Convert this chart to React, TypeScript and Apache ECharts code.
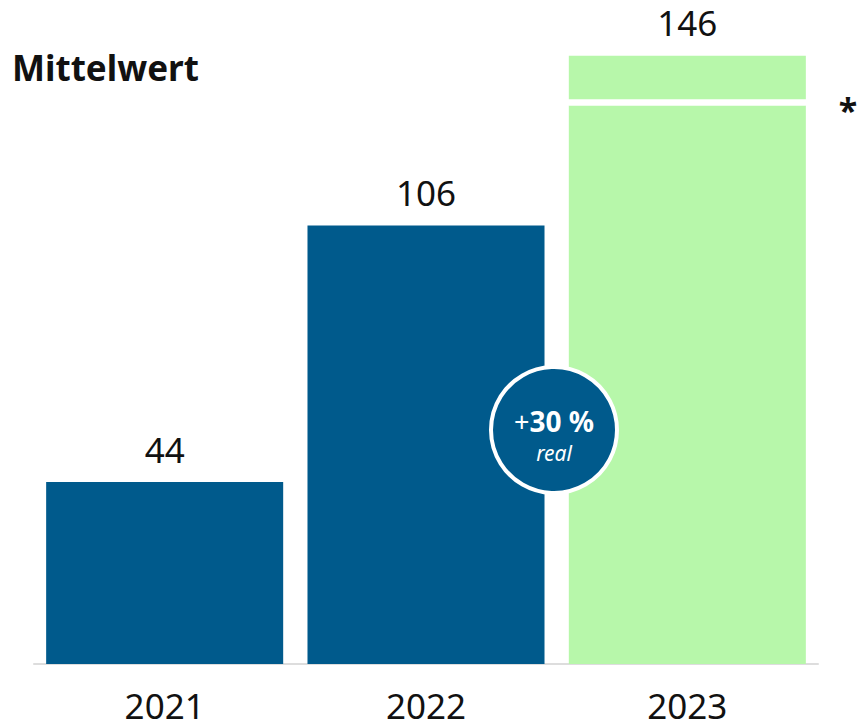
import React, { useEffect, useRef } from "react";
import * as echarts from "echarts";

const categories = ["2021", "2022", "2023"];
const values = [44, 106, 146];
// 2023 bar is split by a white line: lower part, white gap, upper part
const lower2023 = 135;
const gap2023 = 1.5;
const upper2023 = 10.5;
const title = "Mittelwert";
const badgeMain = "30 %";
const badgeSub = "real";

const BLUE = "#005A8C";
const GREEN = "#B7F7AA";
const FONT = "'Noto Sans', sans-serif";

export default function App() {
  const ref = useRef<HTMLDivElement>(null);
  useEffect(() => {
    if (!ref.current) return;
    const chart = echarts.init(ref.current, null, { renderer: "svg" });
    const mainData = values.map((v, i) =>
      i === 2
        ? { value: lower2023, itemStyle: { color: GREEN } }
        : { value: v, itemStyle: { color: BLUE } }
    );
    const gapData = values.map((_, i) => (i === 2 ? gap2023 : "-"));
    const topData = values.map((_, i) => (i === 2 ? upper2023 : "-"));
    chart.setOption({
      animation: false,
      textStyle: { fontFamily: FONT },
      grid: { left: 34, right: 39, top: 2, bottom: 63 },
      xAxis: {
        type: "category",
        data: categories,
        axisLine: { show: true, lineStyle: { color: "#dddddd", width: 2 } },
        axisTick: { show: false },
        axisLabel: { color: "#111", fontSize: 35, margin: 23, fontFamily: FONT, lineHeight: 36 },
      },
      yAxis: {
        type: "value",
        min: 0,
        max: 160,
        show: false,
        splitLine: { show: false },
      },
      series: [
        {
          type: "bar",
          stack: "s",
          data: mainData,
          barCategoryGap: "9.3%",
          label: {
            show: true,
            position: "top",
            distance: 15,
            fontSize: 35,
            color: "#111",
            fontFamily: FONT,
            formatter: (p: any) => (p.dataIndex === 2 ? "" : String(values[p.dataIndex])),
          },
        },
        {
          type: "bar",
          stack: "s",
          data: gapData,
          itemStyle: { color: "#ffffff" },
        },
        {
          type: "bar",
          stack: "s",
          data: topData,
          itemStyle: { color: GREEN },
          label: {
            show: true,
            position: "top",
            distance: 16,
            fontSize: 35,
            color: "#111",
            fontFamily: FONT,
            formatter: (p: any) => String(values[p.dataIndex]),
          },
        },
      ],
      graphic: [
        {
          type: "text",
          left: 12,
          top: 50,
          z: 100,
          style: {
            text: title,
            fontSize: 35,
            fontWeight: "bold",
            fill: "#111",
            fontFamily: FONT,
          },
        },
        {
          type: "text",
          x: 848,
          y: 110,
          z: 100,
          style: {
            text: "*",
            fontSize: 34,
            fontWeight: "bold",
            fill: "#111",
            fontFamily: FONT,
            align: "center",
            verticalAlign: "middle",
          },
        },
        {
          type: "group",
          x: 554,
          y: 430,
          z: 100,
          children: [
            {
              type: "circle",
              z: 100,
              shape: { cx: 0, cy: 0, r: 63 },
              style: { fill: BLUE, stroke: "#ffffff", lineWidth: 4 },
            },
            {
              type: "text",
              z: 101,
              x: 0,
              y: -9,
              style: {
                text: "{a|+}{b|" + badgeMain + "}",
                align: "center",
                verticalAlign: "middle",
                rich: {
                  a: { fontSize: 27, fill: "#fff", color: "#fff", fontFamily: FONT },
                  b: { fontSize: 28, fontWeight: "bold", fill: "#fff", color: "#fff", fontFamily: FONT },
                },
              },
            },
            {
              type: "text",
              z: 101,
              x: 0,
              y: 23,
              style: {
                text: badgeSub,
                align: "center",
                verticalAlign: "middle",
                fontSize: 21,
                fontStyle: "italic",
                fill: "#fff",
                fontFamily: FONT,
              },
            },
          ],
        },
      ],
    });
    return () => chart.dispose();
  }, []);
  return (
    <div
      ref={ref}
      style={{ position: "fixed", left: 0, top: 0, width: 857, height: 727, background: "#fff" }}
    />
  );
}
